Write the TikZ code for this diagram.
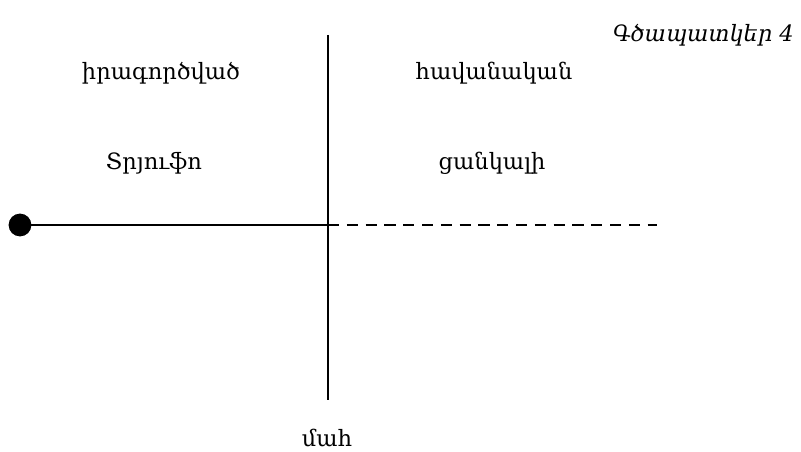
\documentclass[tikz,border=0pt]{standalone}
\usepackage{fontspec}
\setmainfont{DejaVu Serif}
\usetikzlibrary{calc}

\begin{document}
\begin{tikzpicture}[x=0.025cm,y=-0.025cm]
    \tikzset{
      lbl/.style={font=\fontsize{16}{18}\selectfont, inner sep=0pt},
      axis/.style={line width=1.2pt}
    }
    \def\cx{328}
    \def\cy{225}
    \useasboundingbox (0,0) rectangle (801,452);
    \coordinate (top) at (\cx, 35);
    \coordinate (bot) at (\cx, 400);
    \coordinate (mid) at (\cx, \cy);
    \coordinate (end) at (657, \cy);
    \node[circle, fill=black, inner sep=0pt, minimum size=0.57cm] (dot) at (20, \cy) {};
    \draw[axis] (top) -- (bot);
    \draw[axis] (dot.center) -- (mid);
    \draw[axis, dash pattern=on 0.28cm off 0.19cm] (mid) -- (end);
    \node[lbl, anchor=east, font=\fontsize{16}{18}\selectfont\itshape] (fig) at (794, 35) {Գծապատկեր 4};
    \node[lbl] (done) at (161, 73) {իրագործված};
    \node[lbl] (likely) at (494, 73) {հավանական};
    \node[lbl] (truffaut) at (154, 163) {Տրյուֆո};
    \node[lbl] (wished) at (492, 163) {ցանկալի};
    \node[lbl] (death) at (327, 438) {մահ};
\end{tikzpicture}
\end{document}
